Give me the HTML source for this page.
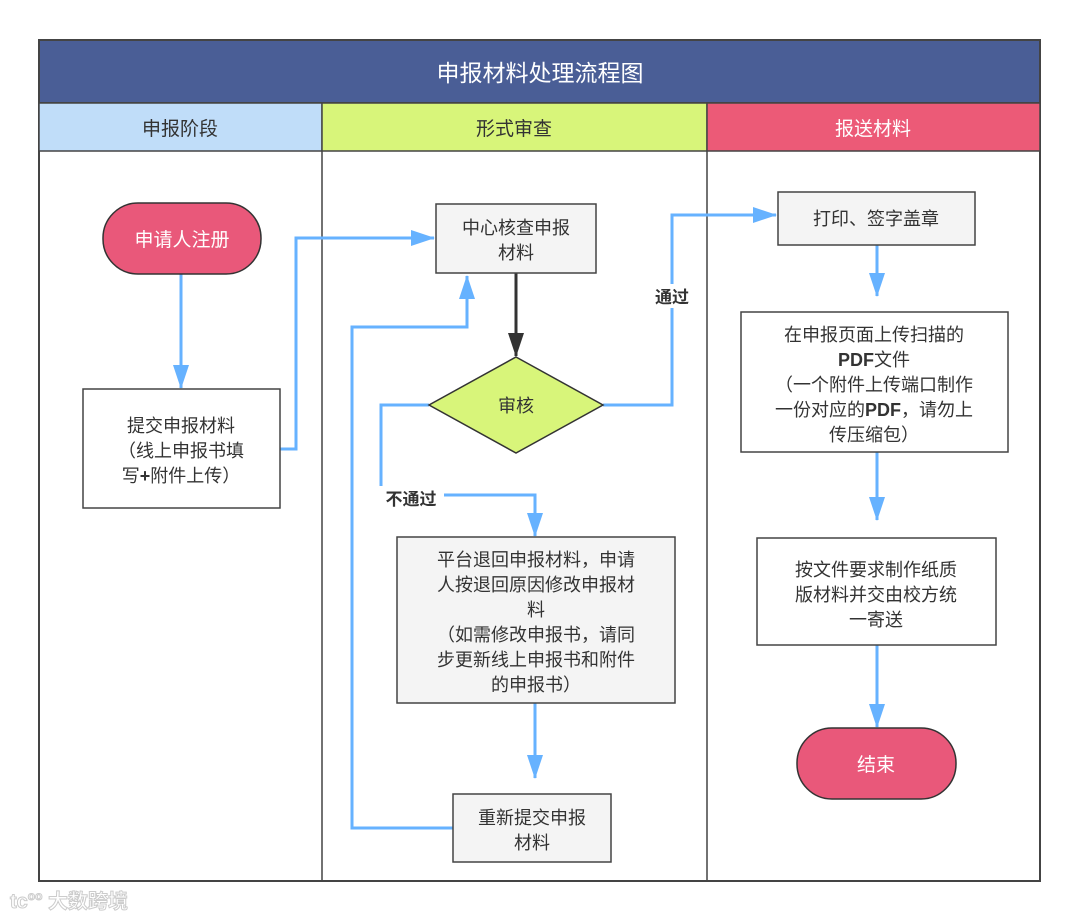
<!DOCTYPE html>
<html><head><meta charset="utf-8"><style>
html,body{margin:0;padding:0;background:#fff;}
svg{display:block;}
text{font-family:"Liberation Sans","Noto Sans CJK SC",sans-serif;}
</style></head><body>
<svg width="1080" height="921" viewBox="0 0 1080 921" xmlns="http://www.w3.org/2000/svg">
<defs>
<marker id="ab" viewBox="0 0 24 16" refX="23" refY="8" markerWidth="24" markerHeight="16" markerUnits="userSpaceOnUse" orient="auto"><path d="M0,0 L24,8 L0,16 z" fill="#66b2ff"/></marker>
<marker id="ak" viewBox="0 0 24 16" refX="23" refY="8" markerWidth="24" markerHeight="16" markerUnits="userSpaceOnUse" orient="auto"><path d="M0,0 L24,8 L0,16 z" fill="#333"/></marker>
</defs>
<rect x="39" y="40" width="1001" height="841" fill="#fff" stroke="#444" stroke-width="2"/>
<rect x="39" y="40" width="1001" height="63" fill="#4a5e96" stroke="#444" stroke-width="2"/>
<text x="540" y="81" font-size="23" fill="#fff" text-anchor="middle">申报材料处理流程图</text>
<rect x="39" y="103" width="283" height="48" fill="#c0ddf9" stroke="#444" stroke-width="1.5"/>
<rect x="322" y="103" width="385" height="48" fill="#d8f57a" stroke="#444" stroke-width="1.5"/>
<rect x="707" y="103" width="333" height="48" fill="#ec5a77" stroke="#444" stroke-width="1.5"/>
<text x="180" y="135" font-size="19" fill="#333" text-anchor="middle">申报阶段</text>
<text x="514" y="135" font-size="19" fill="#333" text-anchor="middle">形式审查</text>
<text x="873" y="135" font-size="19" fill="#fff" text-anchor="middle">报送材料</text>
<line x1="322" y1="151" x2="322" y2="881" stroke="#444" stroke-width="1.5"/>
<line x1="707" y1="151" x2="707" y2="881" stroke="#444" stroke-width="1.5"/>

<g fill="none" stroke="#66b2ff" stroke-width="3">
<path d="M181,274 V388" marker-end="url(#ab)"/>
<path d="M280,449 H296 V238 H434" marker-end="url(#ab)"/>
<path d="M603,405 H672 V215 H776" marker-end="url(#ab)"/>
<path d="M429,405 H381 V495 H535 V536" marker-end="url(#ab)"/>
<path d="M535,703 V778" marker-end="url(#ab)"/>
<path d="M453,828 H352 V327 H467 V276" marker-end="url(#ab)"/>
<path d="M877,245 V296" marker-end="url(#ab)"/>
<path d="M877,452 V520" marker-end="url(#ab)"/>
<path d="M877,645 V727" marker-end="url(#ab)"/>
</g>
<path d="M516,273 V356" stroke="#333" stroke-width="3" fill="none" marker-end="url(#ak)"/>
<rect x="650" y="284" width="44" height="24" fill="#fff"/>
<text x="672" y="303" font-size="17" font-weight="bold" fill="#333" text-anchor="middle">通过</text>
<rect x="378" y="486" width="66" height="24" fill="#fff"/>
<text x="411" y="505" font-size="17" font-weight="bold" fill="#333" text-anchor="middle">不通过</text>

<rect x="103" y="203" width="158" height="71" rx="35" fill="#e9587a" stroke="#333" stroke-width="1.5"/>
<text x="182" y="246" font-size="19" fill="#fff" text-anchor="middle">申请人注册</text>

<rect x="83" y="389" width="197" height="119" fill="#fff" stroke="#444" stroke-width="1.5"/>
<g font-size="18" fill="#333" text-anchor="middle">
<text x="181" y="432">提交申报材料</text>
<text x="181" y="457">（线上申报书填</text>
<text x="181" y="482">写<tspan font-weight="bold">+</tspan>附件上传）</text>
</g>

<rect x="436" y="204" width="160" height="69" fill="#f4f4f4" stroke="#444" stroke-width="1.5"/>
<g font-size="18" fill="#333" text-anchor="middle">
<text x="516" y="234">中心核查申报</text>
<text x="516" y="259">材料</text>
</g>

<polygon points="516,357 603,405 516,453 429,405" fill="#d8f57a" stroke="#333" stroke-width="1.5"/>
<text x="516" y="412" font-size="18" fill="#333" text-anchor="middle">审核</text>

<rect x="397" y="537" width="278" height="166" fill="#f4f4f4" stroke="#444" stroke-width="1.5"/>
<g font-size="18" fill="#333" text-anchor="middle">
<text x="536" y="566">平台退回申报材料，申请</text>
<text x="536" y="591">人按退回原因修改申报材</text>
<text x="536" y="616">料</text>
<text x="536" y="641">（如需修改申报书，请同</text>
<text x="536" y="666">步更新线上申报书和附件</text>
<text x="536" y="691">的申报书）</text>
</g>

<rect x="453" y="794" width="158" height="68" fill="#f4f4f4" stroke="#444" stroke-width="1.5"/>
<g font-size="18" fill="#333" text-anchor="middle">
<text x="532" y="824">重新提交申报</text>
<text x="532" y="849">材料</text>
</g>

<rect x="778" y="192" width="197" height="53" fill="#f4f4f4" stroke="#444" stroke-width="1.5"/>
<text x="876" y="225" font-size="18" fill="#333" text-anchor="middle">打印、签字盖章</text>

<rect x="741" y="312" width="267" height="140" fill="#fff" stroke="#444" stroke-width="1.5"/>
<g font-size="18" fill="#333" text-anchor="middle">
<text x="874" y="341">在申报页面上传扫描的</text>
<text x="874" y="366"><tspan font-weight="bold">PDF</tspan>文件</text>
<text x="874" y="391">（一个附件上传端口制作</text>
<text x="874" y="416">一份对应的<tspan font-weight="bold">PDF</tspan>，请勿上</text>
<text x="874" y="441">传压缩包）</text>
</g>

<rect x="757" y="538" width="239" height="107" fill="#fff" stroke="#444" stroke-width="1.5"/>
<g font-size="18" fill="#333" text-anchor="middle">
<text x="876" y="576">按文件要求制作纸质</text>
<text x="876" y="601">版材料并交由校方统</text>
<text x="876" y="626">一寄送</text>
</g>

<rect x="797" y="728" width="159" height="71" rx="35" fill="#e9587a" stroke="#333" stroke-width="1.5"/>
<text x="876" y="771" font-size="19" fill="#fff" text-anchor="middle">结束</text>

<text x="10" y="908" font-size="20" font-weight="bold" fill="#fff" stroke="#ccc" stroke-width="1">tc<tspan font-size="12" dy="-8">oo</tspan><tspan dy="8"> 大数跨境</tspan></text>
</svg>
</body></html>
